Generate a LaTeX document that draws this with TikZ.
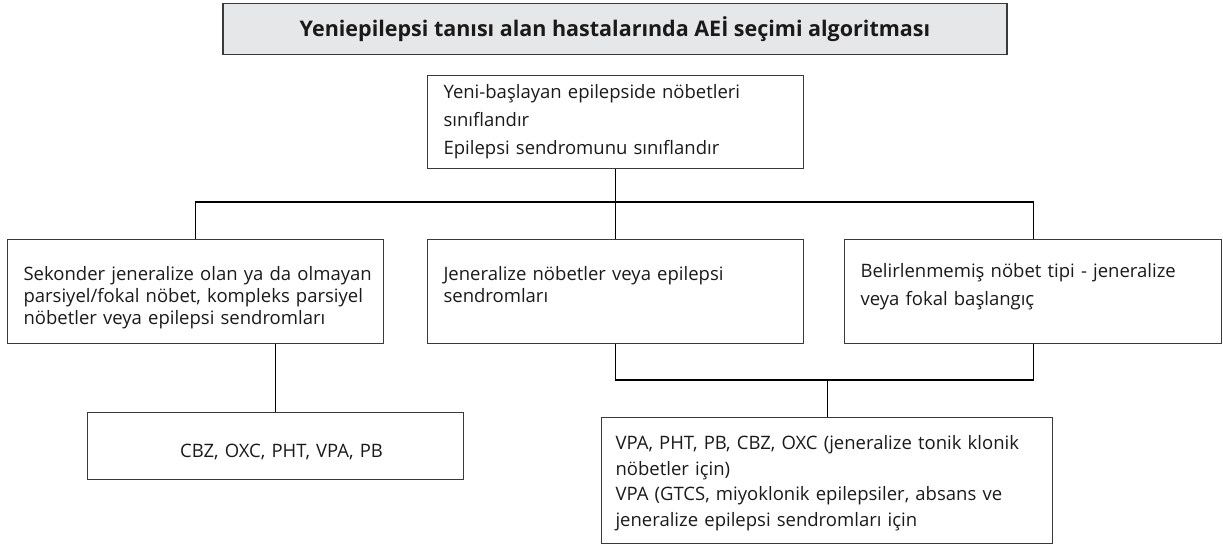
\documentclass[tikz,border=0pt]{standalone}
\usepackage{fontspec}
\setmainfont{Open Sans}
\definecolor{titlefill}{HTML}{E6E7E8}
\definecolor{edge}{HTML}{3A3A3A}
\definecolor{ink}{HTML}{1A1A1A}
\newcommand\oneline[1]{\mbox{#1}}
\begin{document}
\begin{tikzpicture}[x=1pt,y=-1pt,
  box/.style={draw=edge, line width=1.1pt, anchor=north west, inner xsep=0pt, inner ysep=0pt, align=left, text=ink, font=\fontsize{18.5}{22}\selectfont},
  conn/.style={draw=black, line width=1.1pt}]
\useasboundingbox (0,0) rectangle (1223,546);
% title
\node[draw=edge, line width=1.1pt, fill=titlefill, minimum width=784pt, minimum height=51pt, inner sep=0pt, font=\bfseries\fontsize{21.5}{24}\selectfont, text=ink] (title) at (615,29) {Yeniepilepsi tanısı alan hastalarında AEİ seçimi algoritması};
% boxes
\node[box, minimum width=376pt, minimum height=93pt, text width=344pt, inner xsep=16pt, font=\fontsize{18.5}{28}\selectfont] (top) at (427,75) {\oneline{Yeni-başlayan epilepside nöbetleri}\\ \oneline{sınıflandır}\\ \oneline{Epilepsi sendromunu sınıflandır}};
\node[box, minimum width=376pt, minimum height=104pt, text width=344pt, inner xsep=16pt] (left) at (7,239) {\oneline{\rule{0pt}{27pt}Sekonder jeneralize olan ya da olmayan}\\ \oneline{parsiyel/fokal nöbet, kompleks parsiyel}\\ \oneline{nöbetler veya epilepsi sendromları}};
\node[box, minimum width=376pt, minimum height=104pt, text width=344pt, inner xsep=16pt] (mid) at (427,239) {\oneline{Jeneralize nöbetler veya epilepsi}\\ \oneline{sendromları}\\[-8pt]\mbox{}};
\node[box, minimum width=377pt, minimum height=104pt, text width=345pt, inner xsep=16pt, font=\fontsize{18.5}{28}\selectfont] (right) at (844,239) {\oneline{Belirlenmemiş nöbet tipi - jeneralize}\\ \oneline{veya fokal başlangıç}\\[-14pt]\mbox{}};
\node[box, minimum width=376pt, minimum height=67pt, align=center, text width=376pt] (cbz) at (87,412) {\hspace*{12pt}\rule{0pt}{26pt}CBZ, OXC, PHT, VPA, PB};
\node[box, minimum width=451pt, minimum height=126pt, text width=423pt, inner xsep=14pt, font=\fontsize{18.5}{25.5}\selectfont] (bot) at (601,417) {\oneline{\rule{0pt}{19pt}VPA, PHT, PB, CBZ, OXC (jeneralize tonik klonik}\\ \oneline{nöbetler için)}\\ \oneline{VPA (GTCS, miyoklonik epilepsiler, absans ve}\\ \oneline{jeneralize epilepsi sendromları için}};
% connectors
\coordinate (b1) at (615,202);
\coordinate (b2) at (615,380);
\draw[conn] (top.south) -- (mid.north);
\draw[conn] (left.north) -- (left.north |- b1) -- (right.north |- b1) -- (right.north);
\draw[conn] (left.south -| cbz.north) -- (cbz.north);
\draw[conn] (mid.south) -- (mid.south |- b2) -- (right.south |- b2) -- (right.south);
\draw[conn] (bot.north) -- (bot.north |- b2);
\end{tikzpicture}
\end{document}
